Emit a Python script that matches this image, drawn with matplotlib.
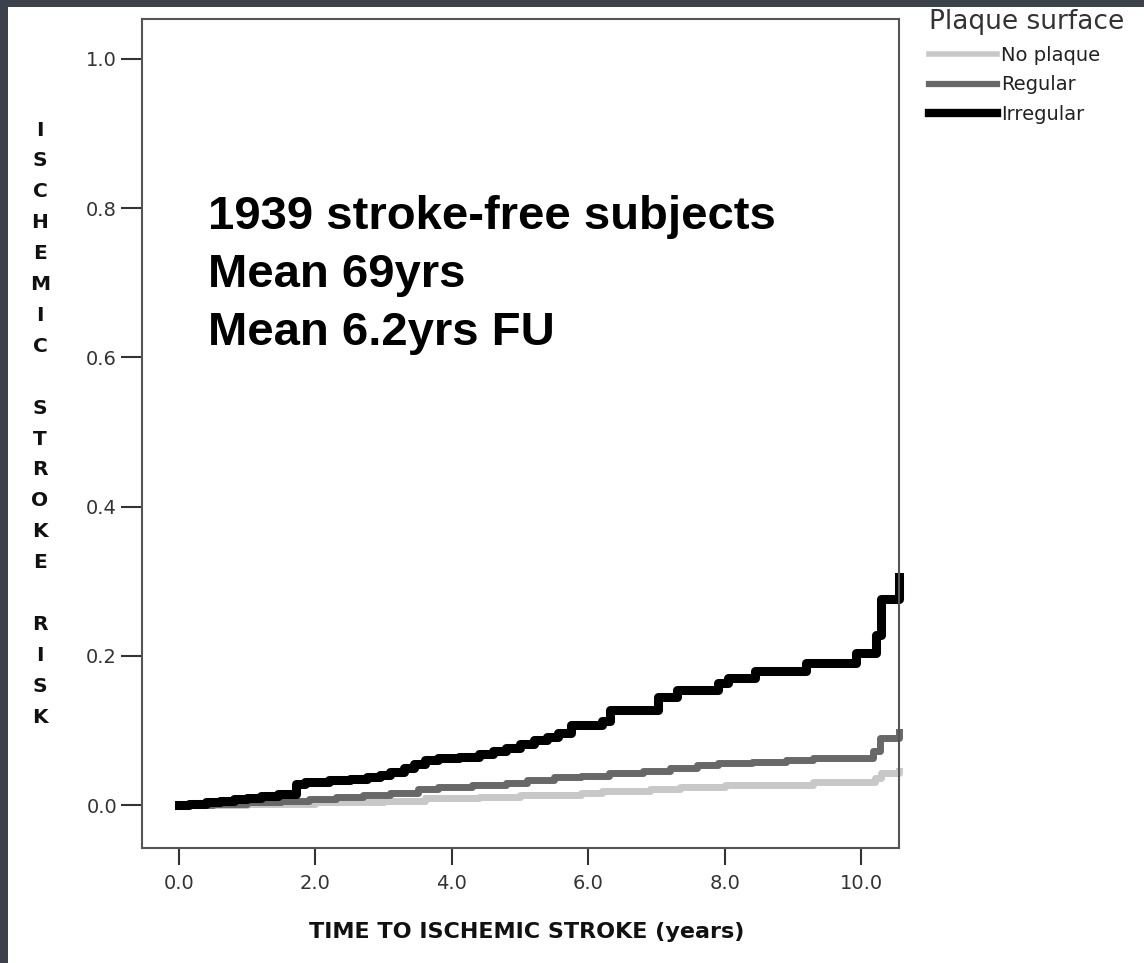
import numpy as np
import matplotlib.pyplot as plt
from matplotlib.patches import Rectangle
from matplotlib.lines import Line2D

W, H = 1144, 963

# cumulative ischemic stroke risk (step, post)
t_noplaque = [0.0, 1.0, 2.0, 3.0, 3.6, 4.4, 5.0, 5.9, 6.2, 6.9, 7.35, 8.0, 9.3, 10.2, 10.3, 10.55]
r_noplaque = [0.0, 0.002, 0.004, 0.006, 0.009, 0.011, 0.013, 0.016, 0.019, 0.021, 0.024, 0.027, 0.031, 0.036, 0.043, 0.045]

t_regular = [0.0, 0.5, 1.0, 1.5, 1.9, 2.3, 2.7, 3.1, 3.5, 3.8, 4.3, 4.8, 5.1, 5.5, 5.9, 6.3,
             6.8, 7.2, 7.6, 7.9, 8.4, 8.9, 9.3, 10.17, 10.28, 10.55]
r_regular = [0.0, 0.002, 0.004, 0.006, 0.008, 0.011, 0.014, 0.016, 0.021, 0.024, 0.027, 0.030, 0.033, 0.037, 0.039, 0.043,
             0.046, 0.050, 0.053, 0.056, 0.058, 0.061, 0.063, 0.073, 0.090, 0.098]

t_irregular = [0.0, 0.15, 0.4, 0.6, 0.8, 1.0, 1.2, 1.45, 1.72, 1.85, 2.2, 2.5, 2.75, 2.95, 3.1, 3.3,
               3.45, 3.6, 3.8, 4.1, 4.4, 4.6, 4.8, 5.0, 5.2, 5.4, 5.55, 5.75, 6.2, 6.32,
               7.03, 7.3, 7.9, 8.05, 8.45, 9.2, 9.93, 10.22, 10.3, 10.55]
r_irregular = [0.0, 0.002, 0.004, 0.006, 0.008, 0.010, 0.012, 0.015, 0.028, 0.031, 0.033, 0.035, 0.037, 0.040, 0.044, 0.049,
               0.055, 0.060, 0.063, 0.065, 0.068, 0.072, 0.076, 0.082, 0.087, 0.091, 0.097, 0.107, 0.112, 0.128,
               0.145, 0.154, 0.163, 0.170, 0.179, 0.190, 0.204, 0.228, 0.276, 0.305]

series_names = ['No plaque', 'Regular', 'Irregular']
series_colors = ['#c8c8c8', '#686868', '#000000']

x_ticks = [0, 2, 4, 6, 8, 10]
x_labels = ['0.0', '2.0', '4.0', '6.0', '8.0', '10.0']
y_ticks = [0.0, 0.2, 0.4, 0.6, 0.8, 1.0]
y_labels = ['0.0', '0.2', '0.4', '0.6', '0.8', '1.0']

notes = ['1939 stroke-free subjects', 'Mean 69yrs', 'Mean 6.2yrs FU']

fig = plt.figure(figsize=(W / 100, H / 100), dpi=100, facecolor='#3c414c')
fig.add_artist(Rectangle((8 / W, 0), 1, 1 - 7 / H, transform=fig.transFigure,
                         facecolor='white', edgecolor='none', zorder=0))

ax = fig.add_axes([142 / W, 1 - 848 / H, (899 - 142) / W, (848 - 19) / H])
ax.set_facecolor('white')

ax.step(t_noplaque, r_noplaque, where='post', color=series_colors[0], lw=5, clip_on=False)
ax.step(t_regular, r_regular, where='post', color=series_colors[1], lw=5, clip_on=False)
ax.step(t_irregular, r_irregular, where='post', color=series_colors[2], lw=6.5, clip_on=False)

ax.set_xlim(-0.543, 10.557)
ax.set_ylim(-0.0576, 1.0536)

for s in ax.spines.values():
    s.set_color('#555555')
    s.set_linewidth(1.5)

ax.set_xticks(x_ticks, x_labels)
ax.set_yticks(y_ticks, y_labels)
ax.tick_params(axis='x', length=12, width=1.5, color='#333333', pad=7,
               labelsize=14, labelcolor='#333333')
ax.tick_params(axis='y', length=15, width=1.5, color='#333333', pad=3,
               labelsize=14, labelcolor='#333333')

ax.set_xlabel('TIME TO ISCHEMIC STROKE (years)', fontsize=16, fontweight='bold', color='#111111')
ax.xaxis.set_label_coords((527 - 142) / 757, (848 - 922) / 829)

# stacked y label, one letter per row
for i, ch in enumerate('ISCHEMIC STROKE RISK'):
    fig.text(40 / W, 1 - (130 + i * 30.9) / H, ch, ha='center', va='center',
             fontsize=14.5, fontweight='bold', color='#111111')

for i, line in enumerate(notes):
    fig.text(208 / W, 1 - (195 + i * 58) / H, line, ha='left', va='top',
             fontsize=34, fontweight='bold', family='Liberation Sans', color='black')

handles = [Line2D([], [], color=series_colors[0], lw=4),
           Line2D([], [], color=series_colors[1], lw=4.5),
           Line2D([], [], color=series_colors[2], lw=6)]
leg = fig.legend(handles, series_names, loc='upper left', bbox_to_anchor=(929 / W, 1 - 9 / H),
                 frameon=False, fontsize=14, title='Plaque surface', title_fontsize=19,
                 alignment='left', handlelength=3.5, handletextpad=0.2, labelspacing=0.55,
                 borderpad=0, borderaxespad=0)
leg.get_title().set_color('#333333')
for txt in leg.get_texts():
    txt.set_color('#222222')

fig.savefig('out.png', dpi=100, facecolor=fig.get_facecolor())
